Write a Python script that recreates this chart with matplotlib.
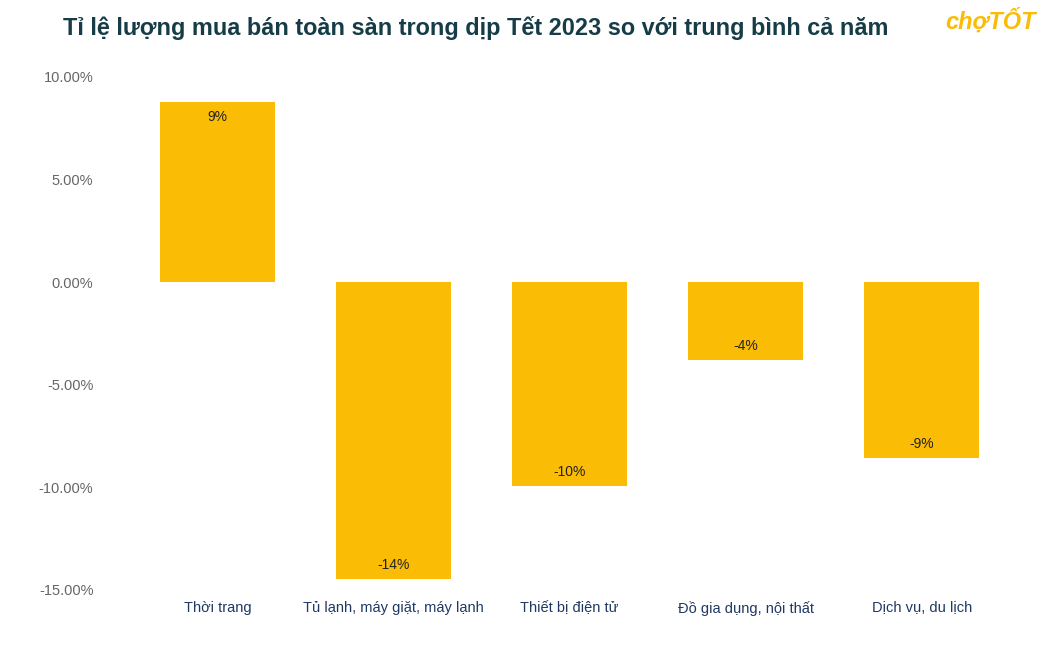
import matplotlib.pyplot as plt
import numpy as np
from matplotlib.ticker import FuncFormatter

plt.rcParams['font.family'] = ['Liberation Sans', 'DejaVu Sans']

categories = ['Thời trang', 'Tủ lạnh, máy giặt, máy lạnh', 'Thiết bị điện tử',
              'Đồ gia dụng, nội thất', 'Dịch vụ, du lịch']
values = [8.8, -14.45, -9.95, -3.8, -8.55]   # phần trăm
bar_labels = ['9%', '-14%', '-10%', '-4%', '-9%']
yticks = [10, 5, 0, -5, -10, -15]

bar_color = '#FBBC05'

fig = plt.figure(figsize=(10.54, 6.54), dpi=100)
ax = fig.add_axes([0.1229, 0.0979, 0.8351, 0.7844])

x = np.arange(len(categories))
bars = ax.bar(x, values, width=0.65, color=bar_color, zorder=2)

# nhãn giá trị bên trong đầu cột
for b, v, lab in zip(bars, values, bar_labels):
    off = -11 if v >= 0 else 10
    ax.annotate(lab, (b.get_x() + b.get_width() / 2, v), xytext=(0, off),
                textcoords='offset points', ha='center', va='center',
                fontsize=10, color='#222222')

ax.set_xlim(-0.5, len(categories) - 0.5)
ax.set_ylim(-15, 10)
ax.set_yticks(yticks)
ax.yaxis.set_major_formatter(FuncFormatter(lambda v, p: f'{v:.2f}%'))
ax.set_xticks(x)
ax.set_xticklabels(categories, fontsize=10.5, color='#1F3864')
ax.tick_params(axis='y', labelsize=10.5, labelcolor='#666666', length=0, pad=26)
ax.tick_params(axis='x', length=0, pad=8)
for s in ax.spines.values():
    s.set_visible(False)

fig.text(0.06, 0.957, 'Tỉ lệ lượng mua bán toàn sàn trong dịp Tết 2023 so với trung bình cả năm',
         fontsize=16.9, fontweight='bold', color='#163D47', ha='left', va='center')
fig.text(0.983, 0.967, 'chợTỐT', fontsize=17, fontweight='bold', fontstyle='italic',
         color='#FBBC05', ha='right', va='center')

plt.savefig('out.png', dpi=100)
